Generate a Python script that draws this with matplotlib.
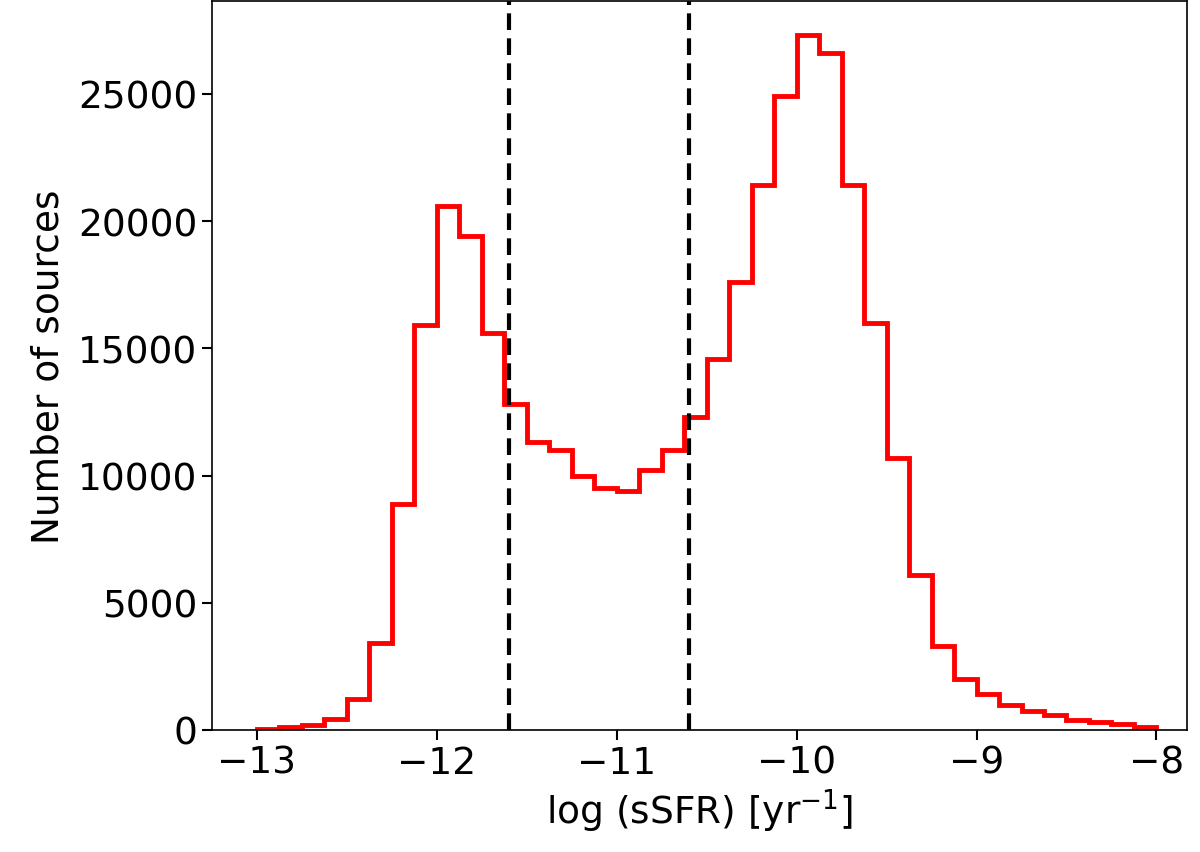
import matplotlib
matplotlib.use("Agg")
import matplotlib.pyplot as plt
import numpy as np

edges = np.linspace(-13, -8, 41)
counts = [50, 100, 200, 450, 1200, 3400, 8900, 15900, 20600, 19400,
          15600, 12800, 11300, 11000, 10000, 9500, 9400, 10200, 11000, 12300,
          14600, 17600, 21400, 24900, 27300, 26600, 21400, 16000, 10700, 6100,
          3300, 2000, 1400, 1000, 750, 600, 400, 300, 250, 120]
vlines = [-11.6, -10.6]

fig = plt.figure(figsize=(12, 8.53), dpi=100)
ax = fig.add_axes([212/1200, 1-731/853, 975/1200, 729/853])
ax.stairs(counts, edges, color='red', lw=3.5)
for v in vlines:
    ax.axvline(v, color='black', ls='--', lw=3, dashes=(4, 2))
ax.set_xlim(-13.25, -7.83)
ax.set_ylim(0, 28650)
ax.set_xticks([-13, -12, -11, -10, -9, -8])
ax.set_yticks([0, 5000, 10000, 15000, 20000, 25000])
ax.tick_params(labelsize=27, width=1.5, length=7)
ax.set_xlabel(r'log (sSFR) [yr$^{-1}$]', fontsize=27)
ax.set_ylabel('Number of sources', fontsize=27, labelpad=8)
for s in ax.spines.values():
    s.set_linewidth(1.2)
fig.savefig('out.png', dpi=100)
